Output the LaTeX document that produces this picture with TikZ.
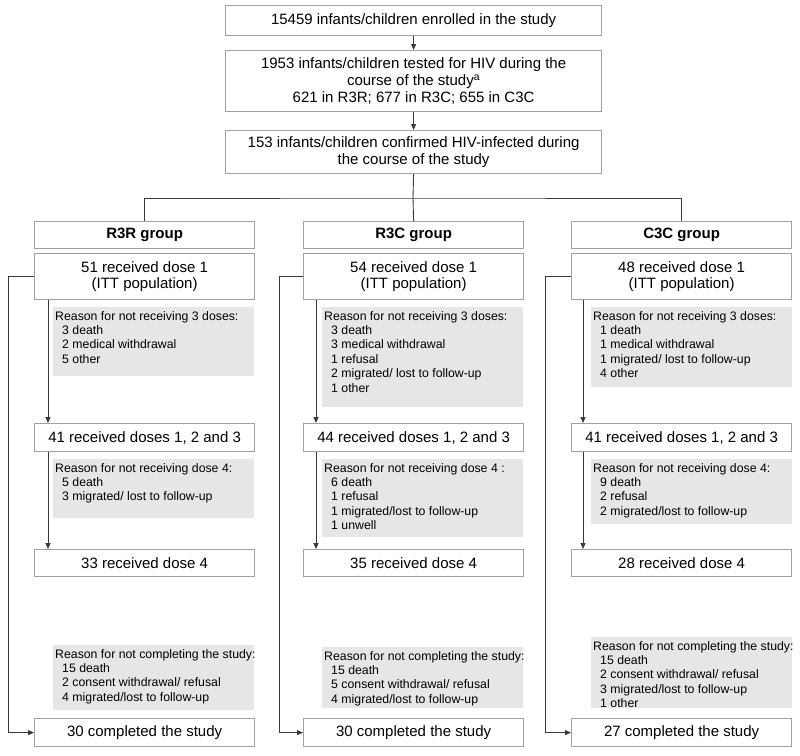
\documentclass[tikz,border=0pt]{standalone}
\usepackage{fontspec}
\setmainfont{Liberation Sans}
\usetikzlibrary{arrows.meta}
\definecolor{boxline}{HTML}{A0A0A0}
\definecolor{greyfill}{HTML}{E6E6E4}
\definecolor{linecol}{HTML}{3A3A3A}
\newcommand\fmain{\fontsize{15}{16.7}\selectfont}
\newcommand\fsmall{\fontsize{12.3}{14.4}\selectfont}
\newcommand\ind{\hspace*{7pt}}
\begin{document}
\begin{tikzpicture}[x=1pt,y=-1pt,
  wbox/.style={draw=boxline, line width=1.2pt, fill=white, inner sep=0pt, align=center, font=\fmain, anchor=north west},
  gbox/.style={fill=greyfill, draw=none, inner sep=0pt, anchor=north west, minimum width=201pt},
  gtext/.style={inner sep=0pt, align=left, font=\fsmall, anchor=north west},
  conn/.style={draw=linecol, line width=0.9pt},
  arr/.style={conn, -{Triangle[length=6pt,width=5pt]}}]
\useasboundingbox (0,0) rectangle (800,755);

% top boxes
\node[wbox, minimum width=376pt, minimum height=30pt] (enr) at (225,5) {15459 infants/children enrolled in the study};
\node[wbox, minimum width=376pt, minimum height=61pt] (tst) at (225,50) {1953 infants/children tested for HIV during the\\course of the study\textsuperscript{a}\\621 in R3R; 677 in R3C; 655 in C3C};
\node[wbox, minimum width=376pt, minimum height=43pt] (inf) at (225,130) {153 infants/children confirmed HIV-infected during\\the course of the study};

% column R3R
\node[wbox, minimum width=220pt, minimum height=27pt] (gA) at (34,221) {\bfseries R3R group};
\node[wbox, minimum width=220pt, minimum height=46pt] (d1A) at (34,253) {51 received dose 1\\(ITT population)};
\node[gbox, minimum height=69pt] (r1A) at (53,307) {};
\node[gtext] (t1A) at ([shift={(2,4)}]r1A.north west) {Reason for not receiving 3 doses:\\\ind 3 death\\\ind 2 medical withdrawal\\\ind 5 other};
\node[wbox, minimum width=220pt, minimum height=28pt] (d3A) at (34,423) {41 received doses 1, 2 and 3};
\node[gbox, minimum height=59pt] (r2A) at (53,459) {};
\node[gtext] (t2A) at ([shift={(2,4)}]r2A.north west) {Reason for not receiving dose 4:\\\ind 5 death\\\ind 3 migrated/ lost to follow-up};
\node[wbox, minimum width=220pt, minimum height=27pt] (d4A) at (34,549) {33 received dose 4};
\node[gbox, minimum height=65pt] (r3A) at (53,645) {};
\node[gtext] (t3A) at ([shift={(2,4)}]r3A.north west) {Reason for not completing the study:\\\ind 15 death\\\ind 2 consent withdrawal/ refusal\\\ind 4 migrated/lost to follow-up};
\node[wbox, minimum width=220pt, minimum height=28pt] (doneA) at (34,718) {30 completed the study};

% column R3C
\node[wbox, minimum width=220pt, minimum height=27pt] (gB) at (303,221) {\bfseries R3C group};
\node[wbox, minimum width=220pt, minimum height=46pt] (d1B) at (303,253) {54 received dose 1\\(ITT population)};
\node[gbox, minimum height=100pt] (r1B) at (322,307) {};
\node[gtext] (t1B) at ([shift={(2,4)}]r1B.north west) {Reason for not receiving 3 doses:\\\ind 3 death\\\ind 3 medical withdrawal\\\ind 1 refusal\\\ind 2 migrated/ lost to follow-up\\\ind 1 other};
\node[wbox, minimum width=220pt, minimum height=28pt] (d3B) at (303,423) {44 received doses 1, 2 and 3};
\node[gbox, minimum height=78pt] (r2B) at (322,459) {};
\node[gtext] (t2B) at ([shift={(2,4)}]r2B.north west) {Reason for not receiving dose 4 :\\\ind 6 death\\\ind 1 refusal\\\ind 1 migrated/lost to follow-up\\\ind 1 unwell};
\node[wbox, minimum width=220pt, minimum height=27pt] (d4B) at (303,549) {35 received dose 4};
\node[gbox, minimum height=61pt] (r3B) at (322,647) {};
\node[gtext] (t3B) at ([shift={(2,4)}]r3B.north west) {Reason for not completing the study:\\\ind 15 death\\\ind 5 consent withdrawal/ refusal\\\ind 4 migrated/lost to follow-up};
\node[wbox, minimum width=220pt, minimum height=28pt] (doneB) at (303,718) {30 completed the study};

% column C3C
\node[wbox, minimum width=220pt, minimum height=27pt] (gC) at (571,221) {\bfseries C3C group};
\node[wbox, minimum width=220pt, minimum height=46pt] (d1C) at (571,253) {48 received dose 1\\(ITT population)};
\node[gbox, minimum height=80pt] (r1C) at (591,307) {};
\node[gtext] (t1C) at ([shift={(2,4)}]r1C.north west) {Reason for not receiving 3 doses:\\\ind 1 death\\\ind 1 medical withdrawal\\\ind 1 migrated/ lost to follow-up\\\ind 4 other};
\node[wbox, minimum width=220pt, minimum height=28pt] (d3C) at (571,423) {41 received doses 1, 2 and 3};
\node[gbox, minimum height=65pt] (r2C) at (591,459) {};
\node[gtext] (t2C) at ([shift={(2,4)}]r2C.north west) {Reason for not receiving dose 4:\\\ind 9 death\\\ind 2 refusal\\\ind 2 migrated/lost to follow-up};
\node[wbox, minimum width=220pt, minimum height=27pt] (d4C) at (571,549) {28 received dose 4};
\node[gbox, minimum height=71pt] (r3C) at (591,637) {};
\node[gtext] (t3C) at ([shift={(2,4)}]r3C.north west) {Reason for not completing the study:\\\ind 15 death\\\ind 2 consent withdrawal/ refusal\\\ind 3 migrated/lost to follow-up\\\ind 1 other};
\node[wbox, minimum width=220pt, minimum height=28pt] (doneC) at (571,718) {27 completed the study};

% connectors
\coordinate (bar) at (413,198);
\draw[arr] (enr.south) -- (tst.north);
\draw[arr] (tst.south) -- (inf.north);
\draw[conn] (inf.south) -- (bar);
\draw[conn] (gA.north) |- (bar) -| (gC.north);
\draw[conn] (bar) -- (gB.north);

\coordinate (oA) at (8,0);   \coordinate (iA) at (48,0);
\coordinate (oB) at (279,0); \coordinate (iB) at (316,0);
\coordinate (oC) at (545,0); \coordinate (iC) at (583,0);

\draw[arr] (d1A.west) -- (d1A.west -| oA) |- (doneA.west);
\draw[arr] (d1A.south -| iA) -- (d3A.north -| iA);
\draw[arr] (d3A.south -| iA) -- (d4A.north -| iA);

\draw[arr] (d1B.west) -- (d1B.west -| oB) |- (doneB.west);
\draw[arr] (d1B.south -| iB) -- (d3B.north -| iB);
\draw[arr] (d3B.south -| iB) -- (d4B.north -| iB);

\draw[arr] (d1C.west) -- (d1C.west -| oC) |- (doneC.west);
\draw[arr] (d1C.south -| iC) -- (d3C.north -| iC);
\draw[arr] (d3C.south -| iC) -- (d4C.north -| iC);
\end{tikzpicture}
\end{document}
